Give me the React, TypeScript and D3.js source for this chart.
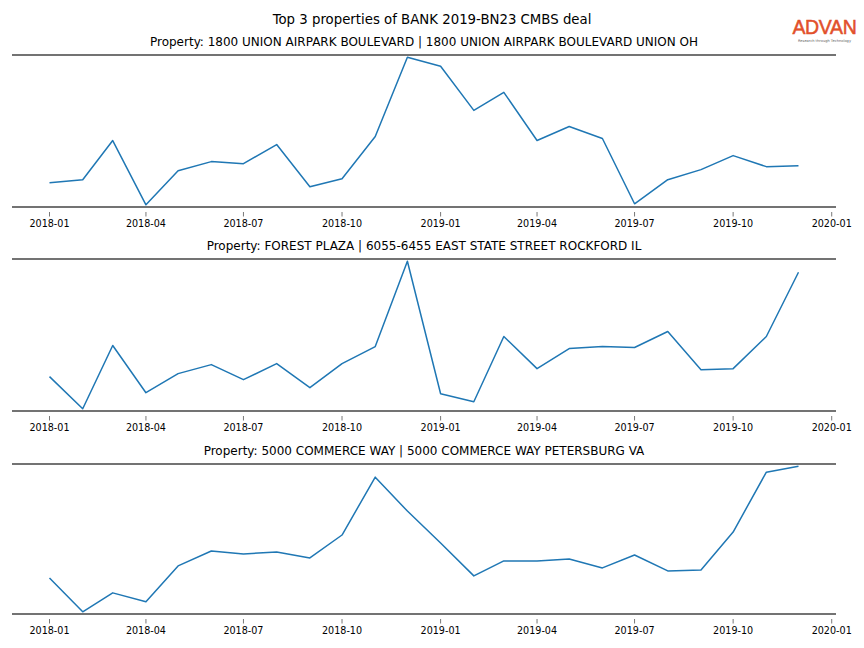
import React from "react";
import * as d3 from "d3";

const months: string[] = [
  "2018-01","2018-02","2018-03","2018-04","2018-05","2018-06","2018-07","2018-08","2018-09","2018-10","2018-11","2018-12",
  "2019-01","2019-02","2019-03","2019-04","2019-05","2019-06","2019-07","2019-08","2019-09","2019-10","2019-11","2019-12",
];

const titles: string[] = [
  "Property: 1800 UNION AIRPARK BOULEVARD | 1800 UNION AIRPARK BOULEVARD UNION OH",
  "Property: FOREST PLAZA | 6055-6455 EAST STATE STREET ROCKFORD IL",
  "Property: 5000 COMMERCE WAY | 5000 COMMERCE WAY PETERSBURG VA",
];

const series1: number[] = [24, 27, 66, 2, 36, 45, 43, 62, 20, 28, 70, 149, 140, 96, 114, 66, 80, 68, 3, 27, 37, 51, 40, 41];
const series2: number[] = [34, 2, 65, 18, 37, 46, 31, 47, 23, 47, 64, 149, 17, 9, 74, 42, 62, 64, 63, 79, 41, 42, 74, 138];
const series3: number[] = [35, 1, 20, 11, 47, 62, 59, 61, 55, 78, 136, 102, 70, 37, 52, 52, 54, 45, 58, 42, 43, 81, 141, 147];

const tickLabels: string[] = ["2018-01","2018-04","2018-07","2018-10","2019-01","2019-04","2019-07","2019-10","2020-01"];

const allSeries = [series1, series2, series3];
const panelTops = [55, 259, 464];
const panelBottoms = [207, 411, 614];

const W = 864;
const H = 648;
const left = 12;
const right = 836;
const font = "DejaVu Sans, sans-serif";

const parse = d3.timeParse("%Y-%m");

export default function App() {
  const dates = months.map((m) => parse(m) as Date);
  const x = d3
    .scaleTime()
    .domain([d3.timeDay.offset(dates[0], -35), d3.timeDay.offset(dates[dates.length - 1], 35)])
    .range([left, right]);
  const ticks = tickLabels.map((t) => parse(t) as Date);

  return (
    <svg width={W} height={H} style={{ position: "absolute", left: 0, top: 0, background: "#fff" }}>
      <text x={432} y={24} textAnchor="middle" fontFamily={font} fontSize={13.3} fill="#000">
        Top 3 properties of BANK 2019-BN23 CMBS deal
      </text>
      <text x={824.5} y={34} textAnchor="middle" fontFamily="Liberation Sans, Arial, sans-serif" fontSize={19.5}
        fill="#e2502b" stroke="#e2502b" strokeWidth={0.5} letterSpacing={-0.3}>
        ADVAN
      </text>
      <text x={824.5} y={41.5} textAnchor="middle" fontFamily={font} fontSize={3.6} fill="#666">
        Research through Technology
      </text>
      {allSeries.map((vals, i) => {
        const top = panelTops[i];
        const bottom = panelBottoms[i];
        const mn = d3.min(vals) as number;
        const mx = d3.max(vals) as number;
        const pad = (mx - mn) * 0.015;
        const y = d3.scaleLinear().domain([mn - pad, mx + pad]).range([bottom, top]);
        const line = d3
          .line<number>()
          .x((_, j) => x(dates[j]))
          .y((v) => y(v));
        return (
          <g key={i}>
            <text x={424} y={top - 9.5} textAnchor="middle" fontFamily={font} fontSize={12} fill="#000">
              {titles[i]}
            </text>
            <path d={line(vals) || ""} fill="none" stroke="#1f77b4" strokeWidth={1.5} strokeLinejoin="round" />
            <line x1={left} x2={right} y1={top} y2={top} stroke="#444" strokeWidth={1.6} />
            <line x1={left} x2={right} y1={bottom} y2={bottom} stroke="#444" strokeWidth={1.6} />
            {ticks.map((t, k) => (
              <g key={k}>
                <line x1={x(t)} x2={x(t)} y1={bottom + 5} y2={bottom + 9.5} stroke="#555" strokeWidth={0.8} />
                <text x={x(t)} y={bottom + 19.5} textAnchor="middle" fontFamily={font} fontSize={9.6} fill="#000">
                  {tickLabels[k]}
                </text>
              </g>
            ))}
          </g>
        );
      })}
    </svg>
  );
}
